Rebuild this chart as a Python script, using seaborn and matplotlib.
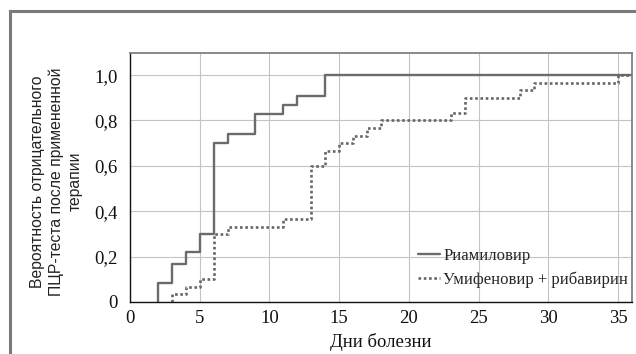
import matplotlib
matplotlib.use('Agg')
import matplotlib.pyplot as plt
import matplotlib.patches as mpatches
import seaborn as sns
import pandas as pd

# data (step curves)
days_ria = [2, 2, 3, 4, 5, 6, 7, 9, 11, 12, 14, 36]
prob_ria = [0, 0.083, 0.167, 0.222, 0.30, 0.70, 0.74, 0.83, 0.87, 0.91, 1.0, 1.0]

days_umi = [3, 3, 4, 5, 6, 7, 11, 13, 14, 15, 16, 17, 18, 23, 24, 28, 29, 35, 36]
prob_umi = [0, 0.033, 0.067, 0.10, 0.30, 0.33, 0.367, 0.60, 0.667, 0.70, 0.733,
            0.767, 0.80, 0.833, 0.90, 0.933, 0.967, 1.0, 1.0]

label_ria = 'Риамиловир'
label_umi = 'Умифеновир + рибавирин'

x_ticks = [0, 5, 10, 15, 20, 25, 30, 35]
y_ticks = [0, 0.2, 0.4, 0.6, 0.8, 1.0]
y_tick_labels = ['0', '0,2', '0,4', '0,6', '0,8', '1,0']

sns.set_theme(style='whitegrid')
plt.rcParams['font.family'] = ['Liberation Serif', 'DejaVu Serif']

df_ria = pd.DataFrame({'day': days_ria, 'prob': prob_ria})
df_umi = pd.DataFrame({'day': days_umi, 'prob': prob_umi})

fig = plt.figure(figsize=(6.36, 3.54), dpi=100)
ax = fig.add_axes([0.2044, 0.147, 0.7893, 0.703])

line_col = '#6b6b6b'
sns.lineplot(x='day', y='prob', data=df_ria, estimator=None, sort=False,
             drawstyle='steps-post', color=line_col, linewidth=1.7,
             label=label_ria, ax=ax)
sns.lineplot(x='day', y='prob', data=df_umi, estimator=None, sort=False,
             drawstyle='steps-post', color='#666666', linewidth=1.9,
             linestyle=(0, (1, 1)), label=label_umi, ax=ax)

ax.set_xlim(0, 36)
ax.set_ylim(0, 1.097)
ax.set_xticks(x_ticks)
ax.set_yticks(y_ticks)
ax.set_yticklabels(y_tick_labels)
ax.tick_params(axis='both', labelsize=13.5, length=0, colors='#111111')
ax.tick_params(axis='x', pad=6)
ax.tick_params(axis='y', pad=9)
ax.grid(True, color='#c4c4c4', linewidth=0.8)

for side in ['left', 'bottom']:
    ax.spines[side].set_color('#111111')
    ax.spines[side].set_linewidth(1.0)
for side in ['top', 'right']:
    ax.spines[side].set_color('#808080')
    ax.spines[side].set_linewidth(1.3)

ax.set_xlabel('Дни болезни', fontsize=13.5, color='#111111', labelpad=4)
ax.set_ylabel('Вероятность отрицательного\nПЦР-теста после примененной\nтерапии',
              fontsize=11.3, color='#222222', linespacing=1.3,
              family=['Liberation Sans Narrow', 'Liberation Sans', 'DejaVu Sans'])
ax.yaxis.set_label_coords(-0.094, 0.485)

ax.legend(loc='lower left', bbox_to_anchor=(0.574, 0.058), frameon=False,
          fontsize=12, handlelength=1.3, handletextpad=0.2, labelspacing=0.42,
          borderpad=0, borderaxespad=0)

# outer grey frame of the figure panel
frame = mpatches.Rectangle((9.7 / 636, -0.1), 1.2, 1.1 - 10.7 / 354,
                           transform=fig.transFigure, fill=False,
                           edgecolor='#7a7a7a', linewidth=2.2)
fig.patches.append(frame)

fig.savefig('out.png', dpi=100)
